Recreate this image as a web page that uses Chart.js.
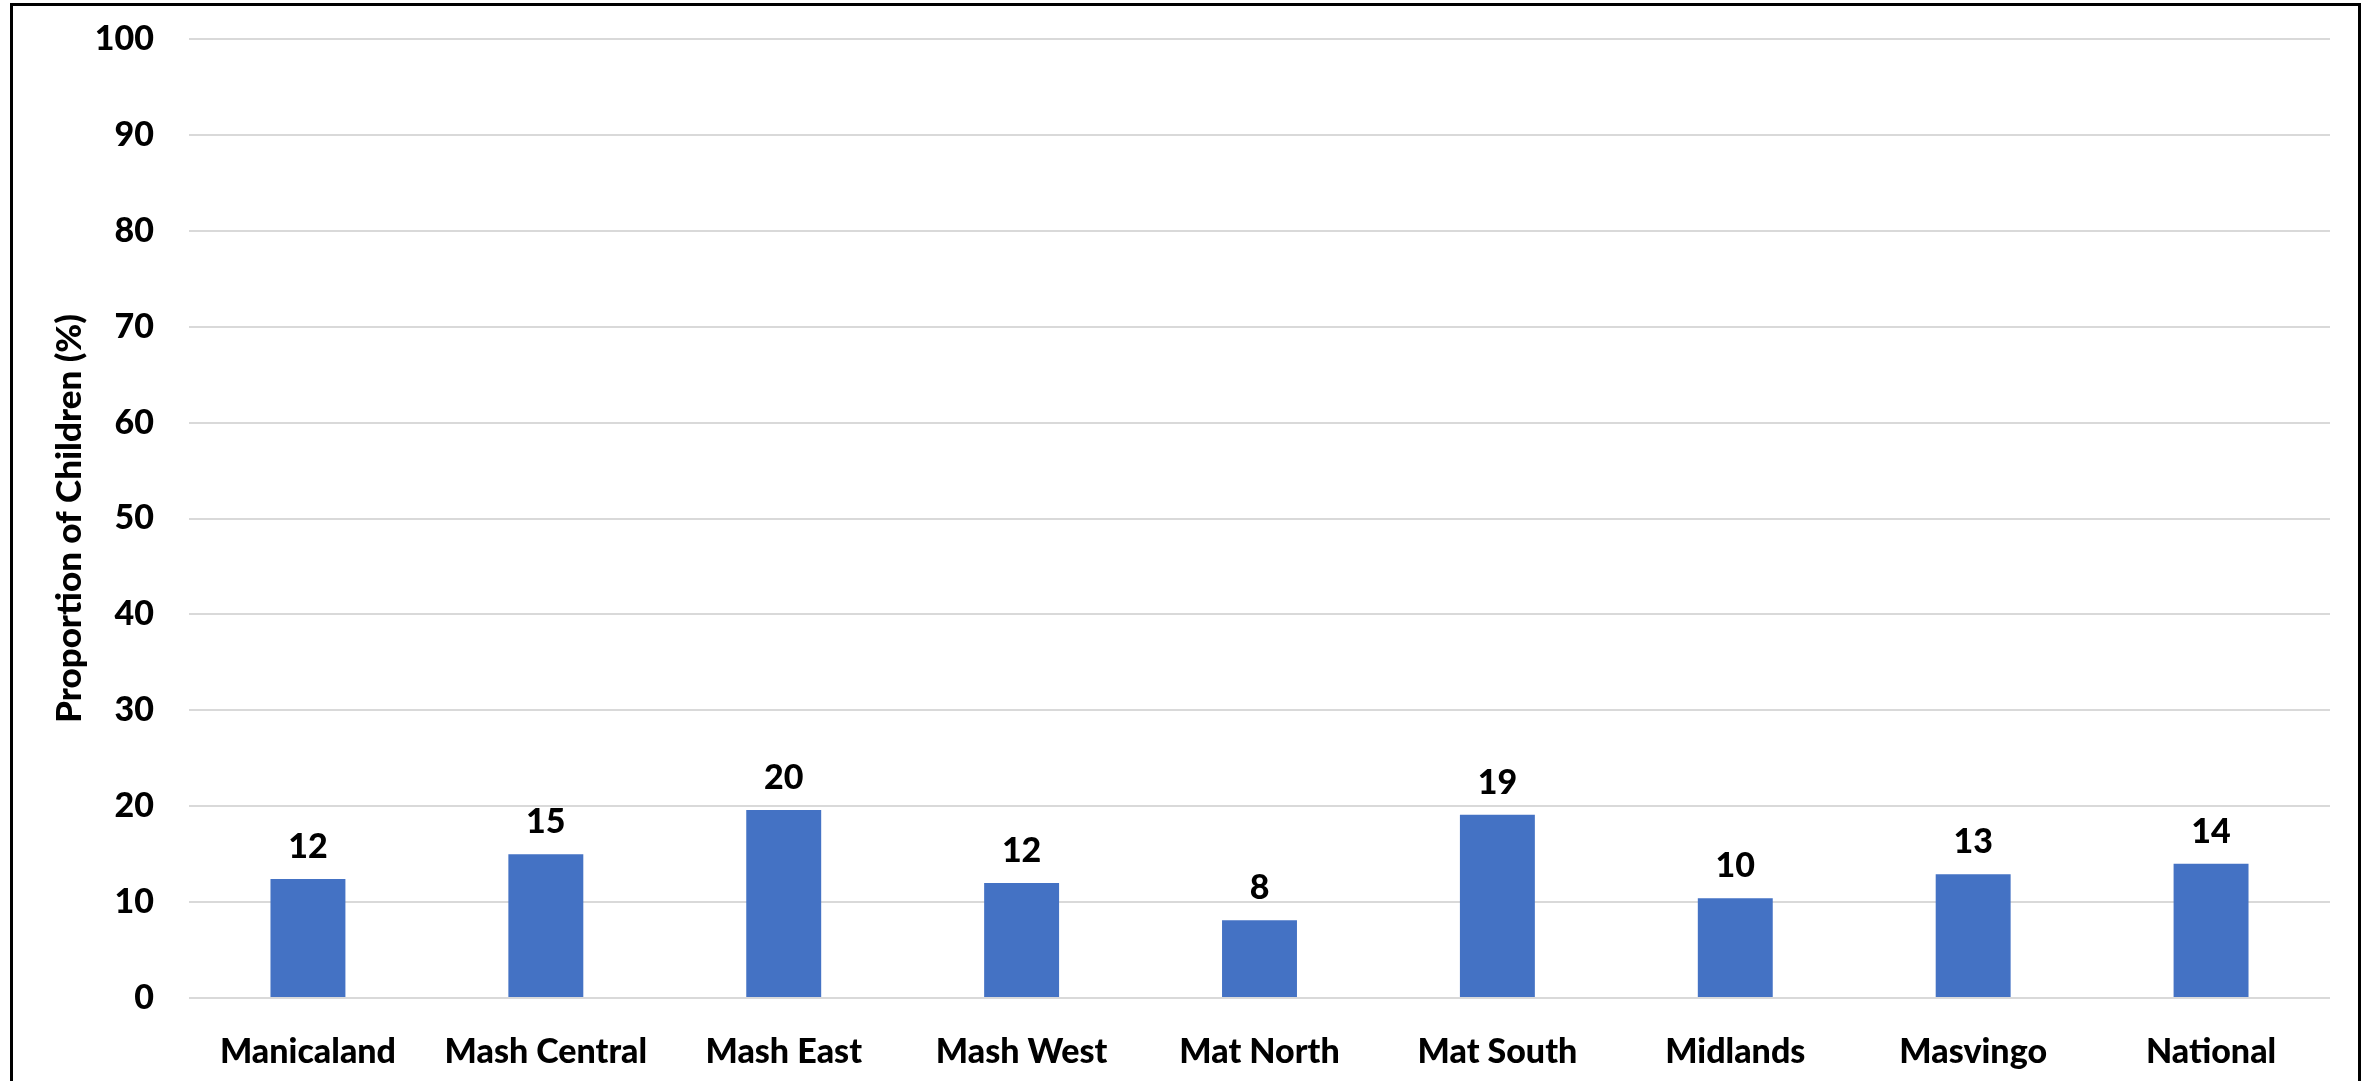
<!DOCTYPE html>
<html>
<head>
<meta charset="utf-8">
<title>Proportion of Children by Province</title>
<script src="https://cdn.jsdelivr.net/npm/chart.js@4.4.1/dist/chart.umd.min.js"></script>
<style>
  html, body { margin: 0; padding: 0; background: #fff; overflow: hidden; }
  #wrap { position: relative; width: 2372px; height: 1081px; }
  #frame {
    position: absolute; left: 10px; top: 3px;
    width: 2345px; height: 1200px;
    border: 3px solid #000; box-sizing: content-box;
    pointer-events: none;
  }
  canvas { position: absolute; left: 0; top: 0; }
</style>
</head>
<body>
<div id="wrap">
  <canvas id="provinceChart" width="2372" height="1081"></canvas>
  <div id="frame"></div>
</div>
<script>
// Data
const provinces = ['Manicaland', 'Mash Central', 'Mash East', 'Mash West', 'Mat North', 'Mat South', 'Midlands', 'Masvingo', 'National'];
const proportions = [12.4, 15.0, 19.6, 12.0, 8.1, 19.1, 10.4, 12.9, 14.0];
const yTicks = [0, 10, 20, 30, 40, 50, 60, 70, 80, 90, 100];
const yTitle = 'Proportion of Children (%)';

const FONT_FAMILY = 'Lato, "Open Sans", sans-serif';
const FONT_SIZE = 34;
const FONT_WEIGHT = 900;

// Value labels above each bar (rounded, like the source chart)
const barValueLabels = {
  id: 'barValueLabels',
  afterDatasetsDraw(chart) {
    const ctx = chart.ctx;
    const meta = chart.getDatasetMeta(0);
    ctx.save();
    ctx.font = FONT_WEIGHT + ' ' + FONT_SIZE + 'px ' + FONT_FAMILY;
    ctx.fillStyle = '#000';
    ctx.textAlign = 'center';
    ctx.textBaseline = 'middle';
    meta.data.forEach((bar, i) => {
      ctx.fillText(String(Math.round(proportions[i])), bar.x, bar.y - 32);
    });
    ctx.restore();
  }
};

function initializeChart() {
  const ctx = document.getElementById('provinceChart').getContext('2d');
  const font = { family: FONT_FAMILY, size: FONT_SIZE, weight: FONT_WEIGHT };

  return new Chart(ctx, {
    type: 'bar',
    data: {
      labels: provinces,
      datasets: [{
        data: proportions,
        backgroundColor: '#4472C4',
        borderWidth: 0,
        barPercentage: 0.315,
        categoryPercentage: 1
      }]
    },
    options: {
      responsive: false,
      animation: false,
      layout: {
        padding: { top: 39, right: 42, bottom: 0, left: 0 }
      },
      plugins: {
        legend: { display: false },
        tooltip: { enabled: false }
      },
      scales: {
        x: {
          grid: { display: false },
          border: { display: false },
          ticks: {
            color: '#000',
            padding: 26,
            maxRotation: 0,
            autoSkip: false,
            font: font
          },
          afterFit: (scale) => { scale.height = 83; }
        },
        y: {
          min: 0,
          max: 100,
          afterBuildTicks: (scale) => { scale.ticks = yTicks.map(v => ({ value: v })); },
          grid: {
            color: '#d9d9d9',
            lineWidth: 2,
            drawTicks: false
          },
          border: { display: false },
          ticks: {
            color: '#000',
            padding: 35,
            font: font
          },
          title: {
            display: true,
            text: yTitle,
            color: '#000',
            padding: { top: 49, bottom: 0 },
            font: { family: FONT_FAMILY, size: 35, weight: FONT_WEIGHT }
          },
          afterFit: (scale) => {
            scale.width = 189;
            // tick padding should only push labels sideways, not shrink the plot
            scale.paddingTop = 0;
            scale.paddingBottom = 0;
          }
        }
      }
    },
    plugins: [barValueLabels]
  });
}

const provinceChart = initializeChart();
</script>
</body>
</html>
